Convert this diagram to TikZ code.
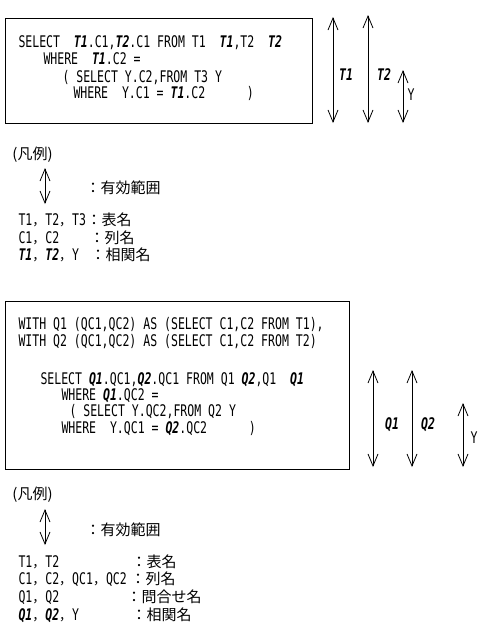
\documentclass[tikz,border=0pt]{standalone}
\usepackage{fontspec}
\newfontfamily\sqlfont[FakeStretch=0.72]{DejaVu Sans Mono}
\newfontfamily\jpfont{Noto Sans CJK JP}
\usetikzlibrary{arrows.meta,positioning}
\newcommand{\corr}[1]{\textbf{\textit{#1}}}
\newcommand{\jpcomma}{{\jpfont\fontsize{13}{13}\selectfont ，}}

\begin{document}
\begin{tikzpicture}[x=1pt,y=-1pt,line width=1pt]

\tikzstyle{sql}=[
  anchor=west,
  inner sep=0pt,
  text height=11.6pt,
  text depth=0pt,
  font=\sqlfont\fontsize{16}{16}\selectfont
]
\tikzstyle{jp}=[
  anchor=west,
  inner sep=0pt,
  font=\jpfont\fontsize{15}{15}\selectfont
]
\tikzstyle{query}=[draw, anchor=north west, inner sep=0pt]
\tikzstyle{validity}=[
  line width=0.8pt,
  {Straight Barb[length=12pt,width=10pt,line width=0.8pt]}-{Straight Barb[length=12pt,width=10pt,line width=0.8pt]}
]

\useasboundingbox (0,0) rectangle (491,630);

% First query
\node[query, minimum width=307.5pt, minimum height=105.5pt] (box1) at (4.5,17.5) {};
\node[sql] (q1a) at (18,42) {SELECT~ \corr{T1}.C1,\corr{T2}.C1 FROM T1~ \corr{T1},T2~ \corr{T2}};
\node[sql] (q1b) at (43,59) {WHERE~ \corr{T1}.C2 =};
\node[sql] (q1c) at (62,77) {( SELECT Y.C2,FROM T3 Y};
\node[sql] (q1d) at (73,93) {WHERE~ Y.C1 = \corr{T1}.C2~~~~~ )};

% Ranges
\coordinate (t1top) at (333,17);
\coordinate (t1bot) at (333,123);
\coordinate (t2top) at (368,15);
\coordinate (t2bot) at (368,123);
\coordinate (y1top) at (403,70);
\coordinate (y1bot) at (403,123);
\draw[validity] (t1top) -- (t1bot);
\draw[validity] (t2top) -- (t2bot);
\draw[validity] (y1top) -- (y1bot);
\node[sql, anchor=center] (t1lab) at (346,75) {\corr{T1}};
\node[sql, anchor=center] (t2lab) at (384,75) {\corr{T2}};
\node[sql, anchor=center] (y1lab) at (411,95) {Y};

% Legend
\node[jp] (leg1) at (12,155) {(凡例)};
\coordinate (l1top) at (45,168);
\coordinate (l1bot) at (45,204);
\draw[validity] (l1top) -- (l1bot);
\node[jp] (l1txt) at (85,188) {：有効範囲};
\node[sql] (l1a) at (18,220) {T1\jpcomma T2\jpcomma T3};
\node[jp] (l1an) at (86,220) {：表名};
\node[sql] (l1b) at (18,238) {C1\jpcomma C2};
\node[jp] (l1bn) at (89,238) {：列名};
\node[sql] (l1c) at (18,255) {\corr{T1}\jpcomma\corr{T2}\jpcomma Y};
\node[jp] (l1cn) at (90,255) {：相関名};

% Second query
\node[query, minimum width=344.5pt, minimum height=168pt] (box2) at (4.5,301) {};
\node[sql] (q2a) at (18,324) {WITH Q1 (QC1,QC2) AS (SELECT C1,C2 FROM T1),};
\node[sql] (q2b) at (18,341) {WITH Q2 (QC1,QC2) AS (SELECT C1,C2 FROM T2)};
\node[sql] (q2c) at (40,379) {SELECT \corr{Q1}.QC1,\corr{Q2}.QC1 FROM Q1 \corr{Q2},Q1~ \corr{Q1}};
\node[sql] (q2d) at (61,395) {WHERE \corr{Q1}.QC2 =};
\node[sql] (q2e) at (69,411) {( SELECT Y.QC2,FROM Q2 Y};
\node[sql] (q2f) at (61,428) {WHERE~ Y.QC1 = \corr{Q2}.QC2~~~~~ )};

% Ranges
\coordinate (q1top) at (373,370);
\coordinate (q1bot) at (373,467);
\coordinate (q2top) at (412,370);
\coordinate (q2bot) at (412,467);
\coordinate (y2top) at (463,403);
\coordinate (y2bot) at (463,467);
\draw[validity] (q1top) -- (q1bot);
\draw[validity] (q2top) -- (q2bot);
\draw[validity] (y2top) -- (y2bot);
\node[sql, anchor=center] (q1lab) at (392,424) {\corr{Q1}};
\node[sql, anchor=center] (q2lab) at (428,424) {\corr{Q2}};
\node[sql, anchor=center] (y2lab) at (474,438) {Y};

% Legend
\node[jp] (leg2) at (12,495) {(凡例)};
\coordinate (l2top) at (45,509);
\coordinate (l2bot) at (45,545);
\draw[validity] (l2top) -- (l2bot);
\node[jp] (l2txt) at (85,530) {：有効範囲};
\node[sql] (l2a) at (18,562) {T1\jpcomma T2};
\node[jp] (l2an) at (131,562) {：表名};
\node[sql] (l2b) at (18,579) {C1\jpcomma C2\jpcomma QC1\jpcomma QC2};
\node[jp] (l2bn) at (130,579) {：列名};
\node[sql] (l2c) at (18,597) {Q1\jpcomma Q2};
\node[jp] (l2cn) at (126,597) {：問合せ名};
\node[sql] (l2d) at (18,615) {\corr{Q1}\jpcomma\corr{Q2}\jpcomma Y};
\node[jp] (l2dn) at (131,615) {：相関名};

\end{tikzpicture}
\end{document}
